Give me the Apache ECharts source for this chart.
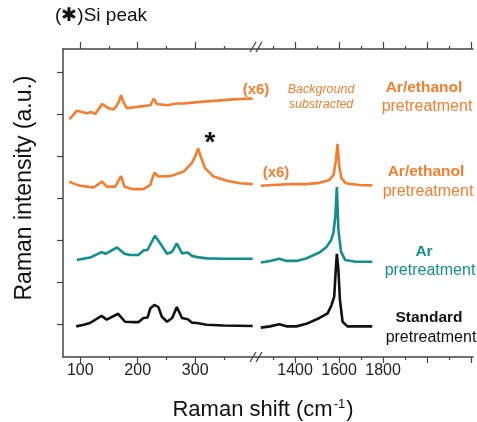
<!DOCTYPE html>
<html>
<head>
<meta charset="utf-8">
<script src="https://cdn.jsdelivr.net/npm/echarts@6/dist/echarts.min.js"></script>
<style>
  html, body { margin: 0; padding: 0; background: #fff; }
  #main { width: 477px; height: 422px; }
</style>
</head>
<body>
<div id="main"></div>
<script>
var chart = echarts.init(document.getElementById('main'));

// ---- data (wavenumber in cm-1, intensity in a.u. with vertical offsets) ----
// Ar/ethanol, background subtracted (x6), low-frequency part only
var ethBgW = [81, 88, 94, 103, 112, 119, 126, 138, 149, 158, 164, 168, 171, 175, 181, 199, 222, 228, 233, 251, 268, 279, 309, 338, 366, 400];
var ethBgY = [4.88, 4.98, 5.08, 5.05, 5.02, 5.05, 5.00, 5.24, 5.14, 5.11, 5.21, 5.32, 5.45, 5.29, 5.14, 5.17, 5.21, 5.37, 5.24, 5.21, 5.25, 5.25, 5.29, 5.32, 5.35, 5.37];

// Ar/ethanol
var ethLowW = [81, 91, 100, 112, 123, 138, 146, 161, 171, 177, 192, 210, 222, 225, 229, 236, 257, 280, 294, 301, 305, 310, 317, 332, 355, 378, 400];
var ethLowY = [3.39, 3.33, 3.29, 3.27, 3.25, 3.39, 3.27, 3.27, 3.52, 3.27, 3.21, 3.21, 3.31, 3.45, 3.60, 3.51, 3.52, 3.63, 3.83, 4.02, 4.18, 3.97, 3.71, 3.51, 3.41, 3.35, 3.33];
var ethHighW = [1244, 1301, 1376, 1451, 1511, 1556, 1575, 1586, 1593, 1601, 1611, 1631, 1691, 1751];
var ethHighY = [3.29, 3.31, 3.33, 3.33, 3.36, 3.43, 3.55, 3.90, 4.29, 3.75, 3.47, 3.35, 3.31, 3.30];

// Ar
var arLowW = [94, 117, 137, 144, 164, 177, 187, 201, 210, 217, 230, 241, 251, 260, 268, 277, 287, 294, 303, 320, 349, 400];
var arLowY = [1.52, 1.58, 1.71, 1.67, 1.82, 1.67, 1.64, 1.64, 1.75, 1.76, 2.10, 1.88, 1.67, 1.72, 1.92, 1.68, 1.70, 1.62, 1.59, 1.56, 1.55, 1.55];
var arHighW = [1244, 1286, 1328, 1361, 1406, 1451, 1511, 1544, 1564, 1574, 1583, 1590, 1597, 1609, 1628, 1676, 1751];
var arHighY = [1.46, 1.50, 1.55, 1.50, 1.50, 1.56, 1.70, 1.84, 2.00, 2.16, 2.55, 3.26, 2.24, 1.72, 1.52, 1.48, 1.48];

// Standard
var stdLowW = [93, 106, 117, 137, 146, 166, 178, 193, 201, 210, 217, 222, 229, 236, 242, 251, 260, 268, 277, 287, 294, 303, 320, 349, 400];
var stdLowY = [-0.06, -0.02, 0.02, 0.19, 0.10, 0.24, 0.05, 0.04, 0.04, 0.14, 0.15, 0.37, 0.45, 0.40, 0.17, 0.05, 0.14, 0.40, 0.14, 0.11, 0.03, 0.02, -0.02, -0.04, -0.05];
var stdHighW = [1244, 1286, 1328, 1361, 1406, 1451, 1511, 1548, 1566, 1578, 1586, 1590, 1597, 1604, 1616, 1638, 1751];
var stdHighY = [-0.09, -0.06, -0.01, -0.06, -0.06, 0.00, 0.14, 0.25, 0.45, 0.65, 1.37, 1.67, 1.29, 0.57, 0.05, -0.06, -0.06];

// ticks
var lowMajor = [100, 200, 300];
var lowMinor = [150, 250, 350];
var highMajor = [1400, 1600, 1800, 2000, 2200];
var highMinor = [1300, 1500, 1700, 1900, 2100];
var highLabels = [1400, 1600, 1800];
var yTicks = [0, 1, 2, 3, 4, 5, 6];

var ORANGE = '#f47d2f';
var TEAL = '#138f8d';
var BLACK = '#111111';
var AXIS = '#444444';
var FONT = '"Liberation Sans", Arial, sans-serif';

function pairs(w, y) {
  var out = [];
  for (var i = 0; i < w.length; i++) out.push([w[i], y[i]]);
  return out;
}

function xax(grid, pos, min, max, ticks, labels, len, showLine) {
  return {
    type: 'value', gridIndex: grid, position: pos, min: min, max: max,
    axisLine: { show: showLine, onZero: false, lineStyle: { color: AXIS, width: 1.5 } },
    axisTick: { show: true, inside: false, length: len, customValues: ticks, lineStyle: { color: AXIS, width: 1.2 } },
    axisLabel: labels ? {
      show: true, customValues: labels, margin: 6, fontSize: 16, color: '#222', fontFamily: FONT,
      formatter: function (v) { return String(v); }
    } : { show: false },
    splitLine: { show: false }
  };
}

function line(xi, yi, data, color) {
  return {
    type: 'line', xAxisIndex: xi, yAxisIndex: yi, data: data,
    showSymbol: false, symbol: 'none', silent: true,
    lineStyle: { color: color, width: 2.6 }
  };
}

function txt(x, y, s, color, size, weight, style) {
  return {
    type: 'text', x: x, y: y, silent: true,
    style: {
      text: s, fill: color, fontSize: size, fontWeight: weight || 'normal',
      fontStyle: style || 'normal', fontFamily: FONT,
      align: 'center', verticalAlign: 'middle'
    }
  };
}

function brk(x, y) {
  return [
    { type: 'line', shape: { x1: x - 3, y1: y + 5, x2: x + 3, y2: y - 5 }, style: { stroke: AXIS, lineWidth: 1.3 } },
    { type: 'line', shape: { x1: x + 3, y1: y + 5, x2: x + 9, y2: y - 5 }, style: { stroke: AXIS, lineWidth: 1.3 } }
  ];
}

var LOWMIN = 70, LOWMAX = 411, HIGHMIN = 1236, HIGHMAX = 2209;
var YMIN = -0.79, YMAX = 6.55;

var option = {
  animation: false,
  backgroundColor: '#fff',
  grid: [
    { left: 63, top: 49, width: 196, height: 308 },
    { left: 259, top: 49, width: 214, height: 308 }
  ],
  xAxis: [
    xax(0, 'bottom', LOWMIN, LOWMAX, lowMajor, lowMajor, 6, true),
    xax(0, 'bottom', LOWMIN, LOWMAX, lowMinor, null, 3, false),
    xax(0, 'top', LOWMIN, LOWMAX, lowMajor, null, 7, true),
    xax(0, 'top', LOWMIN, LOWMAX, lowMinor, null, 3, false),
    xax(1, 'bottom', HIGHMIN, HIGHMAX, highMajor, highLabels, 6, true),
    xax(1, 'bottom', HIGHMIN, HIGHMAX, highMinor, null, 3, false),
    xax(1, 'top', HIGHMIN, HIGHMAX, highMajor, null, 7, true),
    xax(1, 'top', HIGHMIN, HIGHMAX, highMinor, null, 3, false)
  ],
  yAxis: [
    {
      type: 'value', gridIndex: 0, position: 'left', min: YMIN, max: YMAX,
      axisLine: { show: true, onZero: false, lineStyle: { color: AXIS, width: 1.5 } },
      axisTick: { show: true, inside: false, length: 6, customValues: yTicks, lineStyle: { color: AXIS, width: 1.2 } },
      axisLabel: { show: false }, splitLine: { show: false }
    },
    {
      type: 'value', gridIndex: 1, min: YMIN, max: YMAX, show: false,
      splitLine: { show: false }
    }
  ],
  series: [
    line(0, 0, pairs(ethBgW, ethBgY), ORANGE),
    line(0, 0, pairs(ethLowW, ethLowY), ORANGE),
    line(4, 1, pairs(ethHighW, ethHighY), ORANGE),
    line(0, 0, pairs(arLowW, arLowY), TEAL),
    line(4, 1, pairs(arHighW, arHighY), TEAL),
    line(0, 0, pairs(stdLowW, stdLowY), BLACK),
    line(4, 1, pairs(stdHighW, stdHighY), BLACK)
  ],
  graphic: [].concat(
    brk(253, 47), brk(253, 357),
    [
      {
        type: 'text', x: 55, y: 16, silent: true,
        style: { text: '(✱)Si peak', fill: '#111', fontSize: 19, fontFamily: FONT, align: 'left', verticalAlign: 'middle' }
      },
      {
        type: 'text', x: 25, y: 188, rotation: Math.PI / 2, silent: true,
        style: { text: 'Raman intensity (a.u.)', fill: '#111', fontSize: 23, fontFamily: FONT, align: 'center', verticalAlign: 'middle' }
      },
      {
        type: 'text', x: 263, y: 410, silent: true,
        style: {
          text: 'Raman shift (cm{sup|-1})', fill: '#111', fontSize: 22, fontFamily: FONT,
          align: 'center', verticalAlign: 'middle',
          rich: { sup: { fontSize: 13, verticalAlign: 'top', padding: [0, 1, 12, 1], fill: '#111', fontFamily: FONT } }
        }
      },
      txt(210, 143, '*', BLACK, 28, 'bold'),
      txt(256, 90, '(x6)', ORANGE, 15, 'bold'),
      txt(321, 90, 'Background', ORANGE, 12.5, 'normal', 'italic'),
      txt(321, 105, 'substracted', ORANGE, 12.5, 'normal', 'italic'),
      txt(424, 88, 'Ar/ethanol', ORANGE, 15.5, 'bold'),
      txt(427, 107, 'pretreatment', ORANGE, 16),
      txt(276, 173, '(x6)', ORANGE, 15, 'bold'),
      txt(426, 172, 'Ar/ethanol', ORANGE, 15.5, 'bold'),
      txt(428, 192, 'pretreatment', ORANGE, 16),
      txt(424, 252, 'Ar', TEAL, 15.5, 'bold'),
      txt(430, 271, 'pretreatment', TEAL, 16),
      txt(429, 318, 'Standard', BLACK, 15.5, 'bold'),
      txt(431, 338, 'pretreatment', BLACK, 16)
    ]
  )
};
chart.setOption(option);
</script>
</body>
</html>
